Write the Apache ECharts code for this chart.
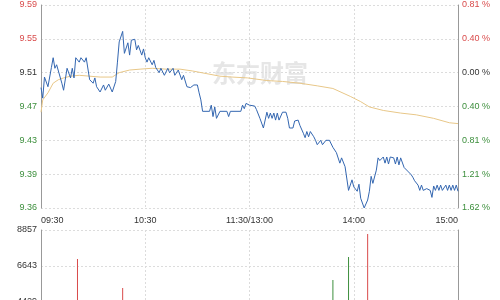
<!DOCTYPE html>
<html><head><meta charset="utf-8">
<script src="https://cdn.jsdelivr.net/npm/echarts@6/dist/echarts.min.js"></script>
<style>html,body{margin:0;padding:0;background:#fff}#c{width:500px;height:300px}</style>
</head><body><div id="c"></div>
<script>
const preClose = 9.51;
const timeTicks = ['09:30','10:30','11:30/13:00','14:00','15:00'];
const priceTicks = ['9.36','9.39','9.43','9.47','9.51','9.55','9.59'];
const pctTicks = ['1.62 %','1.21 %','0.81 %','0.40 %','0.00 %','0.40 %','0.81 %'];
const volTicks = ['0','2214','4429','6643','8857'];

const priceMin = [0,1,2,4,6,7,8,9,12,13,
15,17,18,19,20,22,23,25,26,28,
30,31,32,34,36,37,39,41,43,44,
45,47,48,50,51,52,54,55,56,58,
59,60,61,62,64,65,66,68,69,71,
73,74,76,77,79,81,82,84,85,86,
88,90,91,92,93,97,98,99,100,101,
103,107,108,109,115,116,117,118,120,121,
123,124,126,128,130,131,132,133,134,135,
136,137,139,141,142,143,145,146,148,149,
151,152,153,154,155,157,158,159,161,162,
164,166,168,170,172,173,175,177,179,180,
182,183,184,186,188,189,190,191,193,194,
195,197,198,199,200,201,203,204,205,206,
207,209,210,211,213,214,215,217,218,219,
220,222,224,225,226,227,228,229,230,231,
233,234,235,236,237,238,239,240];
const priceVal = [9.493,9.481,9.505,9.494,9.516,9.527,9.515,9.519,9.498,9.490,
9.515,9.504,9.515,9.504,9.527,9.522,9.527,9.522,9.527,9.502,
9.498,9.504,9.494,9.488,9.496,9.490,9.497,9.488,9.500,9.522,
9.545,9.557,9.532,9.544,9.530,9.547,9.548,9.536,9.541,9.530,
9.537,9.527,9.522,9.527,9.519,9.524,9.516,9.510,9.515,9.507,
9.515,9.510,9.515,9.507,9.513,9.502,9.507,9.494,9.496,9.493,
9.496,9.496,9.487,9.479,9.466,9.466,9.473,9.460,9.471,9.458,
9.466,9.466,9.460,9.466,9.466,9.473,9.469,9.475,9.473,9.475,
9.472,9.468,9.458,9.447,9.465,9.458,9.464,9.458,9.464,9.456,
9.464,9.456,9.465,9.465,9.458,9.447,9.447,9.455,9.456,9.450,
9.441,9.436,9.443,9.437,9.443,9.437,9.433,9.428,9.433,9.428,
9.433,9.433,9.425,9.419,9.407,9.413,9.403,9.376,9.388,9.380,
9.375,9.383,9.367,9.356,9.365,9.375,9.392,9.384,9.399,9.413,
9.410,9.414,9.407,9.414,9.406,9.414,9.413,9.406,9.414,9.405,
9.413,9.402,9.400,9.398,9.394,9.391,9.387,9.382,9.376,9.382,
9.376,9.378,9.376,9.368,9.381,9.376,9.382,9.376,9.382,9.376,
9.382,9.376,9.382,9.376,9.382,9.376,9.382,9.375];

const avgMin = [0,1,4,7,10,13,17,22,28,34,41,45,51,57,64,72,80,87,95,103,110,119,130,139,149,159,168,178,184,189,197,207,216,226,235,240];
const avgVal = [9.465,9.479,9.487,9.498,9.502,9.504,9.506,9.507,9.506,9.505,9.505,9.510,9.513,9.514,9.515,9.514,9.514,9.512,9.509,9.506,9.505,9.504,9.501,9.500,9.498,9.495,9.492,9.483,9.477,9.471,9.467,9.464,9.462,9.458,9.453,9.452];

const volMin = [21,47,168,177,188];
const volVal = [7073,5290,5782,7197,8611];
const volUp = [true,true,false,false,true];

const RED = '#d94b4b', GREEN = '#3d8f3d', DARK = '#333';
const pct = p => (p / preClose - 1) * 100;
const tickIdx = v => Math.round(v / 0.405) + 4;
const tickColor = v => { const i = tickIdx(v); return i > 4 ? RED : (i === 4 ? DARK : GREEN); };
const grid = { color: '#dcdcdc', type: [2, 2] };
const FONT = 'Liberation Sans';

const chart = echarts.init(document.getElementById('c'), null, { renderer: 'canvas' });
chart.setOption({
  animation: false,
  textStyle: { fontFamily: FONT },
  grid: [
    { left: 41, right: 42, top: 5, bottom: 92, outerBoundsMode: 'none', containLabel: false },
    { left: 41, right: 42, top: 230, height: 144, outerBoundsMode: 'none', containLabel: false }
  ],
  xAxis: [
    { gridIndex: 0, type: 'value', min: 0, max: 240, interval: 60,
      axisLine: { show: false }, axisTick: { show: false },
      splitLine: { show: true, lineStyle: grid },
      axisLabel: { formatter: v => timeTicks[Math.round(v / 60)], fontSize: 9, color: DARK, margin: 8,
        fontFamily: FONT, alignMinLabel: 'left', alignMaxLabel: 'right' } },
    { gridIndex: 1, type: 'value', min: 0, max: 240, interval: 60, position: 'top',
      axisLine: { show: true, lineStyle: { color: '#999' } }, axisTick: { show: false },
      axisLabel: { show: false }, splitLine: { show: true, lineStyle: grid } }
  ],
  yAxis: [
    { gridIndex: 0, type: 'value', min: -1.62, max: 0.81, interval: 0.405, position: 'left',
      axisLine: { show: true, lineStyle: { color: '#999' } }, axisTick: { show: false },
      splitLine: { show: true, lineStyle: grid },
      axisLabel: { formatter: v => priceTicks[tickIdx(v)], color: v => tickColor(v), fontSize: 9, margin: 4, fontFamily: FONT } },
    { gridIndex: 0, type: 'value', min: -1.62, max: 0.81, interval: 0.405, position: 'right',
      axisLine: { show: true, lineStyle: { color: '#999' } }, axisTick: { show: false },
      splitLine: { show: false },
      axisLabel: { formatter: v => pctTicks[tickIdx(v)], color: v => tickColor(v), fontSize: 9, margin: 4, fontFamily: FONT } },
    { gridIndex: 1, type: 'value', min: 0, max: 8857, interval: 2214.25, position: 'left',
      axisLine: { show: true, lineStyle: { color: '#999' } }, axisTick: { show: false },
      splitLine: { show: true, lineStyle: grid },
      axisLabel: { formatter: v => volTicks[Math.round(v / 2214.25)], color: DARK, fontSize: 9, margin: 4, fontFamily: FONT } },
    { gridIndex: 1, type: 'value', min: 0, max: 8857, position: 'right',
      axisLine: { show: true, lineStyle: { color: '#999' } }, axisTick: { show: false },
      splitLine: { show: false }, axisLabel: { show: false } }
  ],
  graphic: [
    { type: 'text', left: 212, top: 61, z: 0,
      style: { text: '东方财富', font: 'bold 24px "Noto Sans CJK SC"', fill: '#e6e6e6' } }
  ],
  series: [
    { type: 'line', xAxisIndex: 0, yAxisIndex: 0, showSymbol: false, z: 3,
      lineStyle: { color: '#e8c788', width: 1 },
      data: avgMin.map((m, i) => [m, pct(avgVal[i])]) },
    { type: 'line', xAxisIndex: 0, yAxisIndex: 0, showSymbol: false, z: 4,
      lineStyle: { color: '#3366b0', width: 1 },
      data: priceMin.map((m, i) => [m, pct(priceVal[i])]) },
    { type: 'bar', xAxisIndex: 1, yAxisIndex: 2, barWidth: 1,
      data: volMin.map((m, i) => ({ value: [m, volVal[i]], itemStyle: { color: volUp[i] ? RED : GREEN } })) }
  ]
});
</script></body></html>
